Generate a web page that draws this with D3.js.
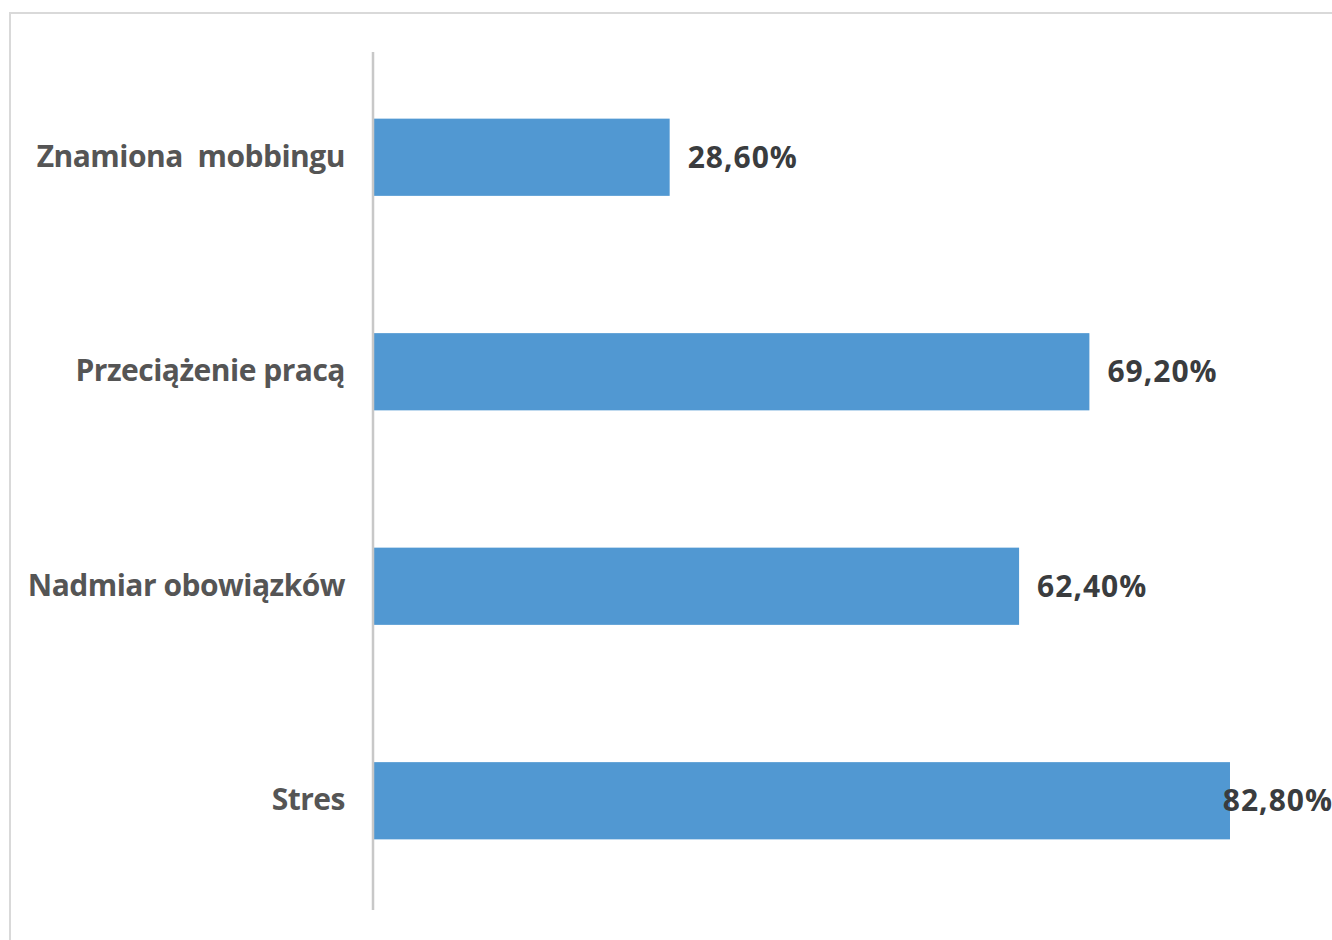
<!DOCTYPE html>
<html>
<head>
<meta charset="utf-8">
<script src="https://cdn.jsdelivr.net/npm/d3@7"></script>
<style>
  html, body { margin: 0; padding: 0; background: #ffffff; }
  svg { display: block; }
</style>
</head>
<body>
<svg id="chart" width="1332" height="940"></svg>
<script>
// Categories listed top to bottom, with their shares in percent
const categories = ["Znamiona  mobbingu", "Przeciążenie pracą", "Nadmiar obowiązków", "Stres"];
const values = [28.6, 69.2, 62.4, 82.8];
const valueLabels = ["28,60%", "69,20%", "62,40%", "82,80%"];

const W = 1332, H = 940;
const svg = d3.select("#chart");
const font = "'Open Sans', 'Noto Sans', sans-serif";

// Outer frame of the chart area
svg.append("rect")
  .attr("x", 10).attr("y", 13)
  .attr("width", W + 20).attr("height", H + 20)
  .attr("fill", "none")
  .attr("stroke", "#d9d9d9")
  .attr("stroke-width", 2);

const plot = { left: 374, top: 50, bottom: 908, axisTop: 52, axisBottom: 910 };

const x = d3.scaleLinear().domain([0, 90]).range([plot.left, plot.left + 90 * 10.338]);
const y = d3.scaleBand().domain(categories).range([plot.top, plot.bottom]).paddingInner(0.64).paddingOuter(0.32);

// Bars
svg.append("g").selectAll("rect")
  .data(categories)
  .join("rect")
  .attr("x", x(0))
  .attr("y", d => y(d))
  .attr("width", (d, i) => x(values[i]) - x(0))
  .attr("height", y.bandwidth())
  .attr("fill", "#5198d2");

// Vertical category axis
const yAxis = d3.axisLeft(y).tickSize(0).tickPadding(28);
const ag = svg.append("g").attr("transform", `translate(${plot.left - 1},0)`).call(yAxis);
ag.select(".domain").attr("d", `M0,${plot.axisTop}V${plot.axisBottom}`).attr("stroke", "#c8c8c8").attr("stroke-width", 2.5);
ag.selectAll("text")
  .attr("font-family", font)
  .attr("font-weight", 700)
  .attr("font-size", 30)
  .attr("letter-spacing", -0.5)
  .attr("fill", "#555555")
  .style("white-space", "pre");

// Value labels at the end of each bar, kept inside the frame
const lbl = svg.append("g").selectAll("text")
  .data(categories)
  .join("text")
  .attr("y", d => y(d) + y.bandwidth() / 2)
  .attr("dy", "0.35em")
  .attr("font-family", font)
  .attr("font-weight", 700)
  .attr("font-size", 30)
  .attr("letter-spacing", 1)
  .attr("fill", "#3a3c3e")
  .text((d, i) => valueLabels[i]);
lbl.each(function (d, i) {
  const w = this.getComputedTextLength();
  const px = Math.min(x(values[i]) + 18, W + 1 - w);
  d3.select(this).attr("x", px);
});
</script>
</body>
</html>
